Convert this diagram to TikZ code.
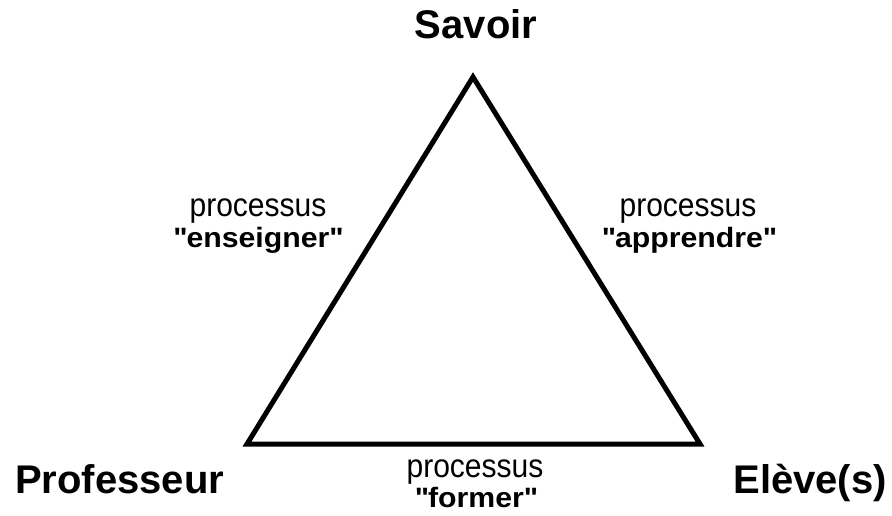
\documentclass[tikz,border=0pt]{standalone}
\usepackage{fontspec}
\setmainfont{Liberation Sans}
\newfontfamily\procfont[FakeStretch=0.91]{Liberation Sans}
\newfontfamily\procnamefont[FakeStretch=1.08]{Liberation Sans}
\begin{document}
\begin{tikzpicture}[x=1pt, y=-1pt,
    pole/.style={inner sep=0pt, anchor=base, font=\fontsize{40}{44}\selectfont\bfseries},
    proc/.style={inner sep=0pt, anchor=base, font=\procfont\fontsize{33}{36}\selectfont},
    procname/.style={inner sep=0pt, anchor=base, font=\procnamefont\fontsize{28}{32}\selectfont\bfseries}]
    \useasboundingbox (0,0) rectangle (892,515);

    % triangle corners
    \coordinate (savoir) at (473,77);
    \coordinate (prof) at (247,444);
    \coordinate (eleve) at (700,444);
    \draw[line width=5pt, line join=miter] (savoir) -- (prof) -- (eleve) -- cycle;

    \node (savoirlabel) [pole] at (476,38) {Savoir};
    \node (proflabel) [pole, anchor=base west] at (15,493) {Professeur};
    \node (elevelabel) [pole, anchor=base east] at (887,493) {Elève(s)};

    \node (enseignerA) [proc] at (258,216) {processus};
    \node (enseignerB) [procname] at (258,247) {\textquotedbl enseigner\textquotedbl};
    \node (apprendreA) [proc] at (688,216) {processus};
    \node (apprendreB) [procname] at (689,247) {\textquotedbl apprendre\textquotedbl};
    \node (formerA) [proc] at (475,477) {processus};
    \node (formerB) [procname] at (476,507) {\textquotedbl former\textquotedbl};
\end{tikzpicture}
\end{document}
